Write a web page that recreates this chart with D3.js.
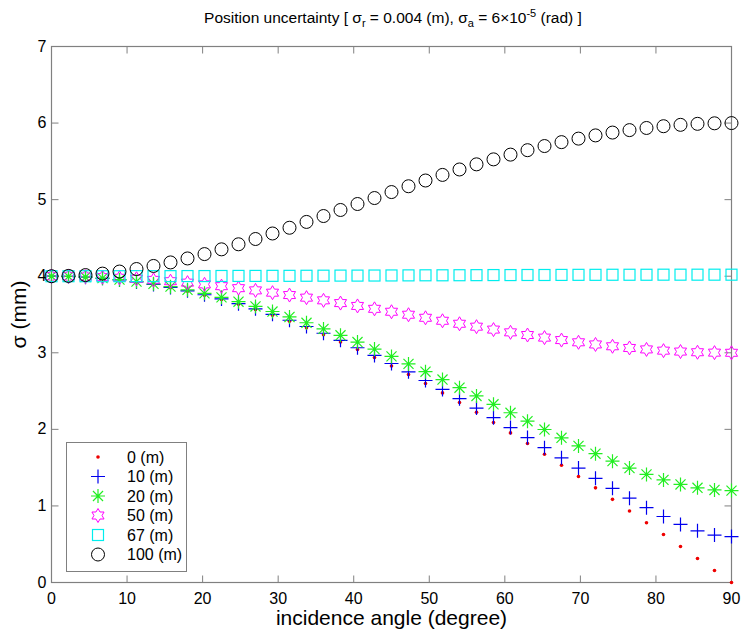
<!DOCTYPE html>
<html>
<head>
<meta charset="utf-8">
<script src="https://cdn.jsdelivr.net/npm/d3@7"></script>
<style>
  body { margin: 0; background: #fff; }
  text { font-family: Arial, "Liberation Sans", sans-serif; }
</style>
</head>
<body>
<div id="viz"></div>
<script>
// incidence angles (degree)
const angles = [0, 2.25, 4.5, 6.75, 9, 11.25, 13.5, 15.75, 18, 20.25, 22.5, 24.75, 27, 29.25, 31.5, 33.75,
  36, 38.25, 40.5, 42.75, 45, 47.25, 49.5, 51.75, 54, 56.25, 58.5, 60.75, 63, 65.25, 67.5, 69.75,
  72, 74.25, 76.5, 78.75, 81, 83.25, 85.5, 87.75, 90]

// sigma (mm) per range
const s0 = [4.000, 3.997, 3.988, 3.972, 3.951, 3.923, 3.889, 3.850, 3.804, 3.753, 3.696, 3.633, 3.564, 3.490,
  3.411, 3.326, 3.236, 3.141, 3.042, 2.937, 2.828, 2.715, 2.598, 2.476, 2.351, 2.222, 2.090, 1.954, 1.816,
  1.675, 1.531, 1.384, 1.236, 1.086, 0.934, 0.780, 0.626, 0.470, 0.314, 0.157, 0.000]
const s10 = [4.000, 3.997, 3.988, 3.973, 3.952, 3.925, 3.892, 3.853, 3.809, 3.758, 3.703, 3.641, 3.574, 3.502,
  3.425, 3.343, 3.255, 3.163, 3.066, 2.965, 2.860, 2.751, 2.638, 2.521, 2.401, 2.278, 2.152, 2.023, 1.893,
  1.761, 1.628, 1.495, 1.361, 1.230, 1.101, 0.977, 0.862, 0.759, 0.675, 0.620, 0.600]
const s20 = [4.000, 3.997, 3.989, 3.975, 3.955, 3.930, 3.900, 3.864, 3.822, 3.776, 3.724, 3.667, 3.605, 3.539,
  3.468, 3.392, 3.312, 3.228, 3.140, 3.048, 2.953, 2.855, 2.753, 2.650, 2.544, 2.436, 2.327, 2.217, 2.107,
  1.998, 1.890, 1.784, 1.682, 1.585, 1.494, 1.412, 1.340, 1.281, 1.237, 1.209, 1.200]
const s50 = [4.000, 3.999, 3.995, 3.988, 3.979, 3.967, 3.952, 3.935, 3.916, 3.894, 3.870, 3.844, 3.815, 3.785,
  3.754, 3.720, 3.685, 3.649, 3.612, 3.574, 3.536, 3.497, 3.457, 3.418, 3.379, 3.341, 3.303, 3.267, 3.232,
  3.198, 3.166, 3.137, 3.109, 3.085, 3.063, 3.044, 3.028, 3.016, 3.007, 3.002, 3.000]
const s67 = [4.000, 4.000, 4.000, 4.000, 4.000, 4.001, 4.001, 4.001, 4.002, 4.002, 4.003, 4.004, 4.004, 4.005,
  4.005, 4.006, 4.007, 4.008, 4.008, 4.009, 4.010, 4.011, 4.012, 4.012, 4.013, 4.014, 4.015, 4.015, 4.016,
  4.016, 4.017, 4.018, 4.018, 4.019, 4.019, 4.019, 4.020, 4.020, 4.020, 4.020, 4.020]
const s100 = [4.000, 4.004, 4.015, 4.034, 4.061, 4.094, 4.134, 4.180, 4.232, 4.289, 4.351, 4.417, 4.486, 4.558,
  4.633, 4.709, 4.786, 4.865, 4.943, 5.021, 5.099, 5.175, 5.250, 5.323, 5.394, 5.461, 5.526, 5.588, 5.646,
  5.700, 5.751, 5.797, 5.839, 5.876, 5.908, 5.936, 5.959, 5.977, 5.990, 5.997, 6.000]

const seriesNames = ["0 (m)", "10 (m)", "20 (m)", "50 (m)", "67 (m)", "100 (m)"]
const xTicks = [0, 10, 20, 30, 40, 50, 60, 70, 80, 90]
const yTicks = [0, 1, 2, 3, 4, 5, 6, 7]

const W = 743, H = 635
const pLeft = 51.5, pRight = 731.5, pTop = 46.5, pBottom = 582.5

const svg = d3.select("#viz").append("svg").attr("width", W).attr("height", H)

const x = d3.scaleLinear().domain([0, 90]).range([pLeft, pRight])
const y = d3.scaleLinear().domain([0, 7]).range([pBottom, pTop])

// marker shapes
const plusPath = (s) => `M${-s},0H${s}M0,${-s}V${s}`
const starPath = (s) => {
  let d = plusPath(s)
  const k = s * 0.72
  d += `M${-k},${-k}L${k},${k}M${-k},${k}L${k},${-k}`
  return d
}
const hexPath = (R) => {
  const r = R / Math.sqrt(3)
  const pts = []
  for (let i = 0; i < 12; i++) {
    const a = -Math.PI / 2 + i * Math.PI / 6
    const rr = i % 2 == 0 ? R : r
    pts.push([rr * Math.cos(a), rr * Math.sin(a)])
  }
  return "M" + pts.map(p => p.join(",")).join("L") + "Z"
}

const series = [
  {vals: s0, draw: g => g.append("circle").attr("r", 1.8).attr("fill", "#ee0000")},
  {vals: s10, draw: g => g.append("path").attr("d", plusPath(7)).attr("stroke", "#0000ee").attr("fill", "none").attr("stroke-width", 1.2)},
  {vals: s20, draw: g => g.append("path").attr("d", starPath(7)).attr("stroke", "#22ee22").attr("fill", "none").attr("stroke-width", 1.2)},
  {vals: s50, draw: g => g.append("path").attr("d", hexPath(7)).attr("stroke", "#ff00ff").attr("fill", "none").attr("stroke-width", 1)},
  {vals: s67, draw: g => g.append("rect").attr("x", -5.5).attr("y", -5.5).attr("width", 11).attr("height", 11).attr("stroke", "#00eeee").attr("fill", "none").attr("stroke-width", 1.2)},
  {vals: s100, draw: g => g.append("circle").attr("r", 6.5).attr("stroke", "#000").attr("fill", "none").attr("stroke-width", 1)}
]

// axes box and ticks
const axisCol = "#808080"
const ax = svg.append("g")
ax.append("rect").attr("x", pLeft).attr("y", pTop).attr("width", pRight - pLeft).attr("height", pBottom - pTop)
  .attr("fill", "none").attr("stroke", axisCol).attr("stroke-width", 1.2)

const tl = 7
xTicks.forEach(t => {
  ax.append("line").attr("x1", x(t)).attr("x2", x(t)).attr("y1", pBottom).attr("y2", pBottom - tl).attr("stroke", axisCol)
  ax.append("line").attr("x1", x(t)).attr("x2", x(t)).attr("y1", pTop).attr("y2", pTop + tl).attr("stroke", axisCol)
  ax.append("text").attr("x", x(t)).attr("y", pBottom + 21).attr("text-anchor", "middle")
    .attr("font-size", 16).text(t)
})
yTicks.forEach(t => {
  ax.append("line").attr("x1", pLeft).attr("x2", pLeft + tl).attr("y1", y(t)).attr("y2", y(t)).attr("stroke", axisCol)
  ax.append("line").attr("x1", pRight).attr("x2", pRight - tl).attr("y1", y(t)).attr("y2", y(t)).attr("stroke", axisCol)
  ax.append("text").attr("x", pLeft - 5).attr("y", y(t) + 5).attr("text-anchor", "end")
    .attr("font-size", 16).text(t)
})

// data markers
series.forEach(s => {
  const g = svg.append("g")
  s.vals.forEach((v, i) => {
    const m = g.append("g").attr("transform", `translate(${x(angles[i])},${y(v)})`)
    s.draw(m)
  })
})

// title
const title = svg.append("text").attr("x", 393).attr("y", 23).attr("text-anchor", "middle").attr("font-size", 15.5)
title.append("tspan").text("Position uncertainty [ σ")
title.append("tspan").attr("font-size", 11).attr("dy", 4).text("r")
title.append("tspan").attr("dy", -4).text(" = 0.004 (m), σ")
title.append("tspan").attr("font-size", 11).attr("dy", 4).text("a")
title.append("tspan").attr("dy", -4).text(" = 6×10")
title.append("tspan").attr("font-size", 11).attr("dy", -6).text("-5")
title.append("tspan").attr("dy", 6).text(" (rad) ]")

// axis labels
svg.append("text").attr("x", (pLeft + pRight) / 2).attr("y", 625).attr("text-anchor", "middle")
  .attr("font-size", 21).text("incidence angle (degree)")
svg.append("text").attr("transform", `translate(26,${(pTop + pBottom) / 2}) rotate(-90)`)
  .attr("text-anchor", "middle").attr("font-size", 21).text("σ (mm)")

// legend
const lg = svg.append("g")
lg.append("rect").attr("x", 66.5).attr("y", 442.5).attr("width", 120).attr("height", 129)
  .attr("fill", "#fff").attr("stroke", axisCol).attr("stroke-width", 1)
series.forEach((s, i) => {
  const cy = 457 + i * 19.5
  const m = lg.append("g").attr("transform", `translate(98,${cy})`)
  s.draw(m)
  lg.append("text").attr("x", 127).attr("y", cy + 5.5).attr("font-size", 16).text(seriesNames[i])
})
</script>
</body>
</html>
